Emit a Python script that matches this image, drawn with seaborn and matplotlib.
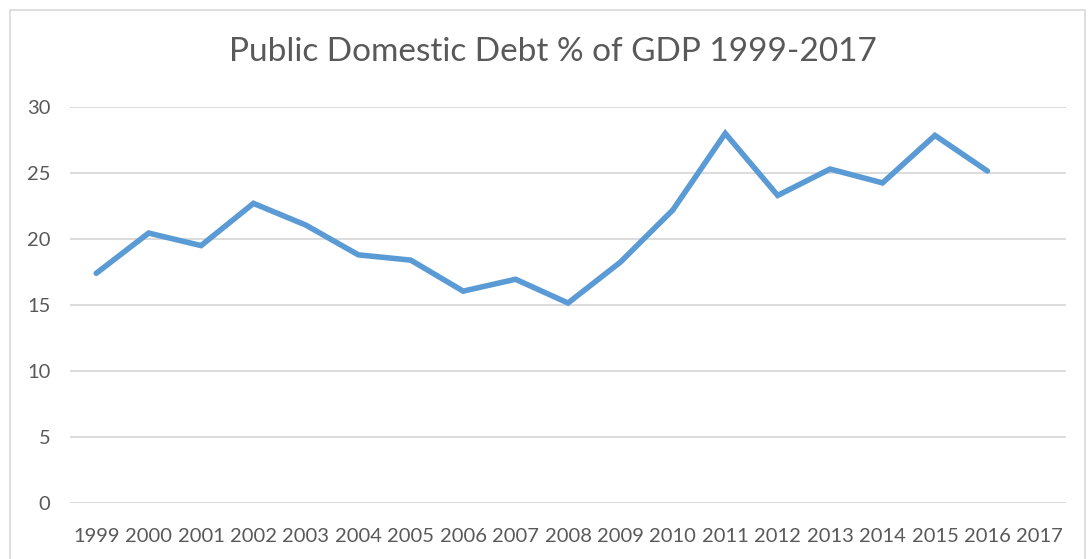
import matplotlib
matplotlib.use("Agg")
import matplotlib.pyplot as plt
import seaborn as sns
import numpy as np
import pandas as pd
from matplotlib.patches import Rectangle

years = [1999, 2000, 2001, 2002, 2003, 2004, 2005, 2006, 2007, 2008,
         2009, 2010, 2011, 2012, 2013, 2014, 2015, 2016, 2017]
debt = [17.4, 20.45, 19.5, 22.7, 21.05, 18.8, 18.4, 16.05, 16.95, 15.15,
        18.25, 22.2, 28.0, 23.3, 25.3, 24.25, 27.85, 25.15, np.nan]
yticks = [0, 5, 10, 15, 20, 25, 30]
title = "Public Domestic Debt % of GDP 1999-2017"

sns.set_theme(style="white")
plt.rcParams['font.family'] = ['Lato', 'DejaVu Sans']

df = pd.DataFrame({"year": years, "debt": debt})

fig = plt.figure(figsize=(10.89, 5.59), dpi=100)
ax = fig.add_axes([70/1089, 1 - 503/559, (1066-70)/1089, (503-107)/559])

sns.lineplot(data=df, x="year", y="debt", ax=ax, color="#5b9bd5",
             linewidth=4.0, solid_joinstyle="miter", solid_capstyle="round")

ax.set_xlim(1998.5, 2017.5)
ax.set_ylim(0, 30)
ax.set_yticks(yticks)
ax.set_xticks(years)
ax.set_xticklabels([str(y) for y in years])
ax.yaxis.grid(True, color="#d9d9d9", linewidth=1.3)
ax.set_axisbelow(True)
for s in ax.spines.values():
    s.set_visible(False)
ax.set_xlabel("")
ax.set_ylabel("")
ax.tick_params(axis="x", labelsize=14.5, colors="#595959", pad=18, length=0)
ax.tick_params(axis="y", labelsize=14.5, colors="#595959", pad=14, length=0)

fig.text(553/1089, 1 - 52/559, title, ha="center", va="center",
         fontsize=24, color="#595959")

fig.patches.append(Rectangle((10/1089, -0.05), (1085-10)/1089, 1 - 10/559 + 0.05,
                             transform=fig.transFigure, fill=False,
                             edgecolor="#d9d9d9", linewidth=1.2))

fig.savefig("out.png", dpi=100)
